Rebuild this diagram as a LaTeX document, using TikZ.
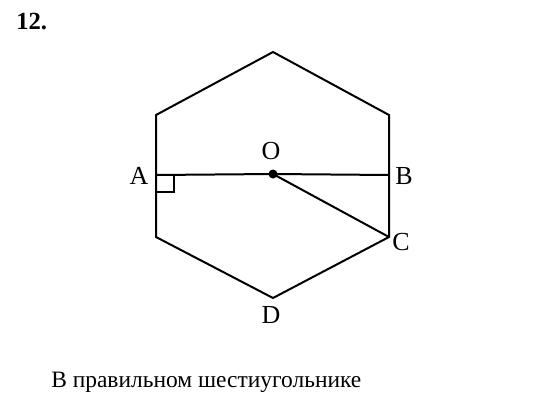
\documentclass[tikz,border=0pt]{standalone}
\usepackage{fontspec}
\setmainfont{Liberation Serif}
\begin{document}
\begin{tikzpicture}[x=0.75pt,y=-0.75pt,
  edge/.style={line width=1.5pt,line join=miter},
  lbl/.style={font=\fontsize{19.5}{22}\selectfont, inner sep=0pt}]
\useasboundingbox (0,0) rectangle (533,411);
\coordinate (T) at (273,52);
\coordinate (UR) at (389,115);
\coordinate (C) at (389,237);
\coordinate (D) at (273,298);
\coordinate (LL) at (156,237);
\coordinate (UL) at (156,115);
\coordinate (A) at (156,175);
\coordinate (B) at (389,175);
\coordinate (O) at (273,174);
\draw[edge] (T) -- (UR) -- (C) -- (D) -- (LL) -- (UL) -- cycle;
\draw[edge] (A) -- (O) -- (B);
\draw[edge] (O) -- (C);
\draw[edge] (A) rectangle ++(18,17);
\fill (O) circle (4.5);
\node[lbl] (la) at (139,176) {A};
\node[lbl] (lo) at (271,151) {O};
\node[lbl] (lb) at (404,176) {B};
\node[lbl] (lc) at (401,242) {C};
\node[lbl] (ld) at (271,315) {D};
\node[font=\bfseries\fontsize{18.5}{22}\selectfont, anchor=base west, inner sep=0pt] (num) at (16,29) {12.};
\node[font=\fontsize{17.6}{20}\selectfont, anchor=base west, inner sep=0pt] (cap) at (51,387) {В правильном шестиугольнике};
\end{tikzpicture}
\end{document}
